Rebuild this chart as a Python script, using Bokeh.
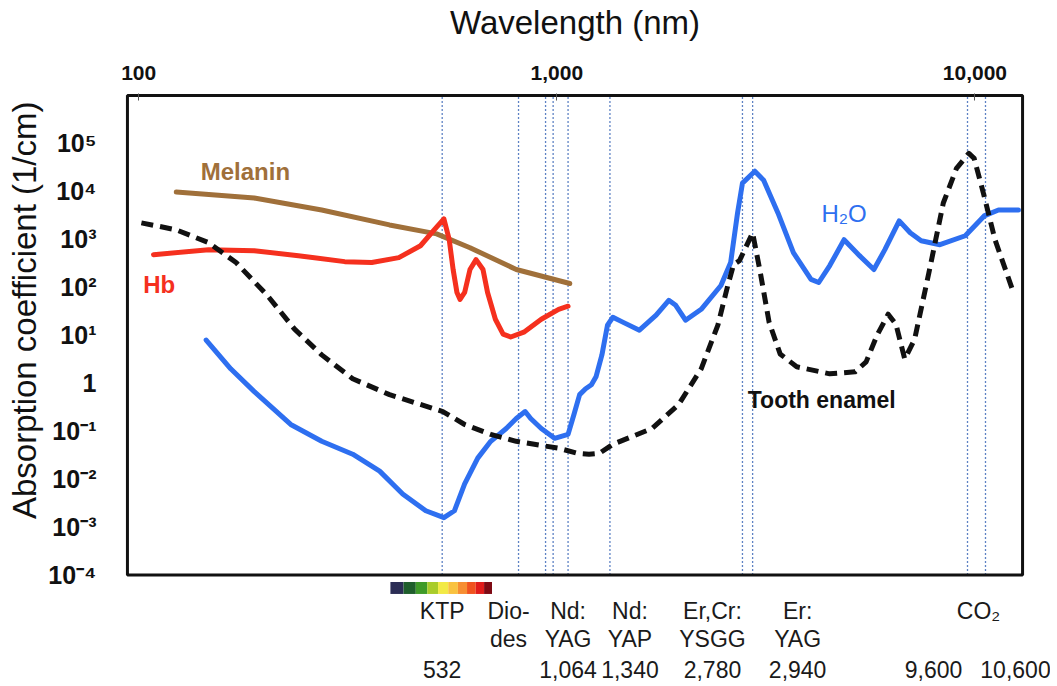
import math
from bokeh.plotting import figure
from bokeh.models import FixedTicker, Range1d, ColumnDataSource, Title
from bokeh.core.properties import value
from bokeh.embed import file_html
from bokeh.resources import INLINE

# ---------------- data ----------------
melanin_nm = [123, 189, 274, 398, 516, 620, 800, 1074]
melanin_abs = [9700, 7260, 4100, 2000, 1300, 670, 235, 120]

hb_nm = [108.5, 147, 189, 241, 311, 361, 419, 472, 509, 537, 553, 565, 577, 587,
         602, 620, 641, 666, 683, 713, 744, 776, 834, 918, 1010, 1064]
hb_abs = [480, 610, 581, 457, 343, 328, 416, 736, 1580, 2670, 982, 235, 78, 56,
          78, 235, 378, 235, 78, 21.6, 10.6, 9.2, 11.6, 21.6, 34.8, 40.3]

enamel_nm = [101.5, 123, 147, 171, 203, 236, 274, 325, 398, 534, 602, 695, 800, 1010,
             1120, 1194, 1265, 1362, 1690, 1956, 2215, 2428, 2564, 2648, 2735, 2940,
             3067, 3219, 3421, 3748, 4496, 5170, 5493, 5837, 6202, 6471, 6795, 7176,
             7763, 8402, 9035, 9672, 9959, 10522, 11170, 12290]
enamel_abs = [2210, 1580, 851, 328, 68, 13.4, 3.9, 1.24, 0.578, 0.257, 0.138, 0.0859,
              0.0615, 0.0441, 0.0347, 0.0331, 0.0347, 0.0533, 0.114, 0.359, 2.0, 16.3,
              109, 298, 360, 1370, 203, 18.8, 4.08, 2.2, 1.57, 1.73, 2.79, 10.1, 27.5,
              17.1, 3.21, 8.3, 203, 5730, 30300, 62100, 48900, 8000, 982, 90.6]

water_nm = [145, 166, 189, 231, 274, 325, 377, 428, 486, 537, 569, 602, 647, 695, 757,
            800, 840, 866, 918, 988, 1064, 1099, 1134, 1172, 1210, 1241, 1282, 1322,
            1362, 1438, 1576, 1728, 1853, 1925, 2032, 2215, 2469, 2605, 2706, 2780,
            2976, 3124, 3380, 3680, 4055, 4231, 4496, 4865, 5297, 5733, 6090, 6591,
            7002, 7437, 8249, 9484, 10522, 11386, 12706]
water_abs = [7.96, 2.0, 0.667, 0.138, 0.0615, 0.0331, 0.0147, 0.00492, 0.00219, 0.00157,
             0.00219, 0.00793, 0.0274, 0.0615, 0.114, 0.184, 0.257, 0.184, 0.114, 0.071,
             0.0859, 0.223, 0.578, 0.769, 0.931, 1.36, 3.89, 16.3, 23.8, 18.8, 12.8,
             26.2, 53.6, 42.2, 20.6, 34.8, 109, 328, 3560, 14900, 26300, 17100, 3560,
             528, 146, 126, 284, 982, 457, 235, 610, 2430, 1370, 935, 773, 1190, 3080,
             4100, 4100]

laser_nm = [532, 810, 940, 980, 1064, 1340, 2780, 2940, 9600, 10600]

name_row1 = ["KTP", "Dio-", "Nd:", "Nd:", "Er,Cr:", "Er:", "CO\u2082"]
name_row1_nm = [532, 810, 1064, 1340, 2780, 2940, 9600]
name_row2 = ["des", "YAG", "YAP", "YSGG", "YAG"]
name_row2_nm = [810, 1064, 1340, 2780, 2940]
wl_labels = ["532", "1,064", "1,340", "2,780", "2,940", "9,600", "10,600"]
wl_label_nm = [532, 1064, 1340, 2780, 2940, 9600, 10600]

top_ticks = [100, 1000, 10000]
top_tick_labels = ["100", "1,000", "10,000"]
y_ticks = [0.0001, 0.001, 0.01, 0.1, 1, 10, 100, 1000, 10000, 100000]
y_tick_labels = ["10\u207b\u2074", "10\u207b\u00b3", "10\u207b\u00b2", "10\u207b\u00b9", "1",
                 "10\u00b9", "10\u00b2", "10\u00b3", "10\u2074", "10\u2075"]

spectrum_edges_nm = [400, 430, 460, 490, 520, 550, 580, 610, 640, 670, 700]
spectrum_colors = ["#2B2D55", "#1F5E2C", "#3F9A28", "#A9CC2A", "#F2EA45",
                   "#F9C23F", "#F78E32", "#F0521F", "#E01B1B", "#7E0A14"]

# ---------------- layout ----------------
FONT = "Liberation Sans"
XL, XR = 94.0, 13000.0          # wavelength at left / right border of the box
YB, YT = 1e-4, 1e6              # absorption at bottom / top border of the box
W, H = 1050, 684
ML, MT = 97, 90
BOX_L, BOX_T = 28, 2
BW, BH = 897, 482
FW, FH = W - ML, H - MT
pdx = BW / math.log10(XR / XL)
pdy = BH / math.log10(YT / YB)
x_start = XL / 10 ** (BOX_L / pdx)
x_end = XR * 10 ** ((FW - BOX_L - BW) / pdx)
y_end = YT * 10 ** (BOX_T / pdy)
y_start = YB / 10 ** ((FH - BOX_T - BH) / pdy)

p = figure(width=W, height=H, x_axis_type="log", y_axis_type="log",
           x_axis_location="above", title_location=None,
           x_range=Range1d(x_start, x_end), y_range=Range1d(y_start, y_end),
           output_backend="svg", toolbar_location=None,
           min_border_left=ML, min_border_top=MT, min_border_right=0, min_border_bottom=0)
p.outline_line_color = None
p.grid.visible = False
p.background_fill_color = "white"

xa = p.xaxis[0]
xa.ticker = FixedTicker(ticks=top_ticks, minor_ticks=[])
xa.major_label_overrides = dict(zip(top_ticks, top_tick_labels))
xa.major_label_text_font = FONT
xa.major_label_text_font_size = "21px"
xa.major_label_text_font_style = "bold"
xa.major_label_text_color = "#111111"
xa.major_label_standoff = 14
xa.axis_label = "Wavelength (nm)"
xa.axis_label_text_font = FONT
xa.axis_label_text_font_size = "33px"
xa.axis_label_text_font_style = "normal"
xa.axis_label_text_color = "#111111"
xa.axis_label_standoff = 22
xa.axis_line_color = None
xa.major_tick_in = 7
xa.major_tick_out = 0
xa.major_tick_line_color = "#555555"
xa.minor_tick_line_color = None

ya = p.yaxis[0]
ya.ticker = FixedTicker(ticks=y_ticks, minor_ticks=[])
ya.major_label_overrides = dict(zip(y_ticks, y_tick_labels))
ya.major_label_text_font = FONT
ya.major_label_text_font_size = "25px"
ya.major_label_text_font_style = "bold"
ya.major_label_text_color = "#111111"
ya.major_label_standoff = -3
ya.axis_line_color = None
ya.major_tick_line_color = None
ya.minor_tick_line_color = None

ytitle = Title(text="Absorption coefficient (1/cm)", align="right", offset=8,
               text_font=FONT, text_font_size="33px", text_font_style="normal",
               text_color="#111111", standoff=6)
p.add_layout(ytitle, "left")

# laser lines
n = len(laser_nm)
p.segment(x0=laser_nm, y0=[YB] * n, x1=laser_nm, y1=[YT] * n,
          line_color="#5E82C4", line_width=1.3, line_dash="2 2")

# curves
p.line(melanin_nm, melanin_abs, line_color="#A0703A", line_width=5,
       line_join="round", line_cap="round")
p.line(hb_nm, hb_abs, line_color="#F5301E", line_width=5,
       line_join="round", line_cap="round")
p.line(water_nm, water_abs, line_color="#2E6FF0", line_width=5,
       line_join="round", line_cap="round")
p.line(enamel_nm, enamel_abs, line_color="#111111", line_width=5,
       line_dash="12 7", line_join="round")

# box border
p.quad(left=[XL], right=[XR], bottom=[YB], top=[YT], fill_color=None,
       line_color="#111111", line_width=3)

# curve labels
p.text(x=[180], y=[2.6e4], text=["Melanin"], text_color="#A0703A",
       text_font=value(FONT), text_font_style="bold", text_font_size="24px",
       text_align="center", text_baseline="middle")
p.text(x=[112], y=[115], text=["Hb"], text_color="#F5301E",
       text_font=value(FONT), text_font_style="bold", text_font_size="24px",
       text_align="center", text_baseline="middle")
p.text(x=[4865], y=[3500], text=["H\u2082O"], text_color="#2E6FF0",
       text_font=value(FONT), text_font_style="normal", text_font_size="24px",
       text_align="center", text_baseline="middle")
p.text(x=[4300], y=[0.45], text=["Tooth enamel"], text_color="#111111",
       text_font=value(FONT), text_font_style="bold", text_font_size="23px",
       text_align="center", text_baseline="middle")

# visible spectrum bar under KTP
bar_top = YB / 10 ** (7 / pdy)
bar_bot = YB / 10 ** (19 / pdy)
p.quad(left=spectrum_edges_nm[:-1], right=spectrum_edges_nm[1:],
       bottom=[bar_bot] * len(spectrum_colors), top=[bar_top] * len(spectrum_colors),
       fill_color=spectrum_colors, line_color=None)

# laser labels below the box
lab_style = dict(text_font=value(FONT), text_font_size="23px", text_color="#1a1a1a",
                 text_align="center", text_baseline="middle")
src1 = ColumnDataSource(dict(x=name_row1_nm, y=[YB] * len(name_row1), t=name_row1,
                             dx=[0, -10, 0, 20, -30, 45, 11]))
src2 = ColumnDataSource(dict(x=name_row2_nm, y=[YB] * len(name_row2), t=name_row2,
                             dx=[-10, 0, 20, -30, 45]))
src3 = ColumnDataSource(dict(x=wl_label_nm, y=[YB] * len(wl_labels), t=wl_labels,
                             dx=[0, 0, 20, -30, 45, -34, 30]))
p.text(x="x", y="y", text="t", x_offset="dx", y_offset=36, source=src1, **lab_style)
p.text(x="x", y="y", text="t", x_offset="dx", y_offset=64, source=src2, **lab_style)
p.text(x="x", y="y", text="t", x_offset="dx", y_offset=94, source=src3, **lab_style)

open("out.html", "w").write(file_html(p, INLINE))
